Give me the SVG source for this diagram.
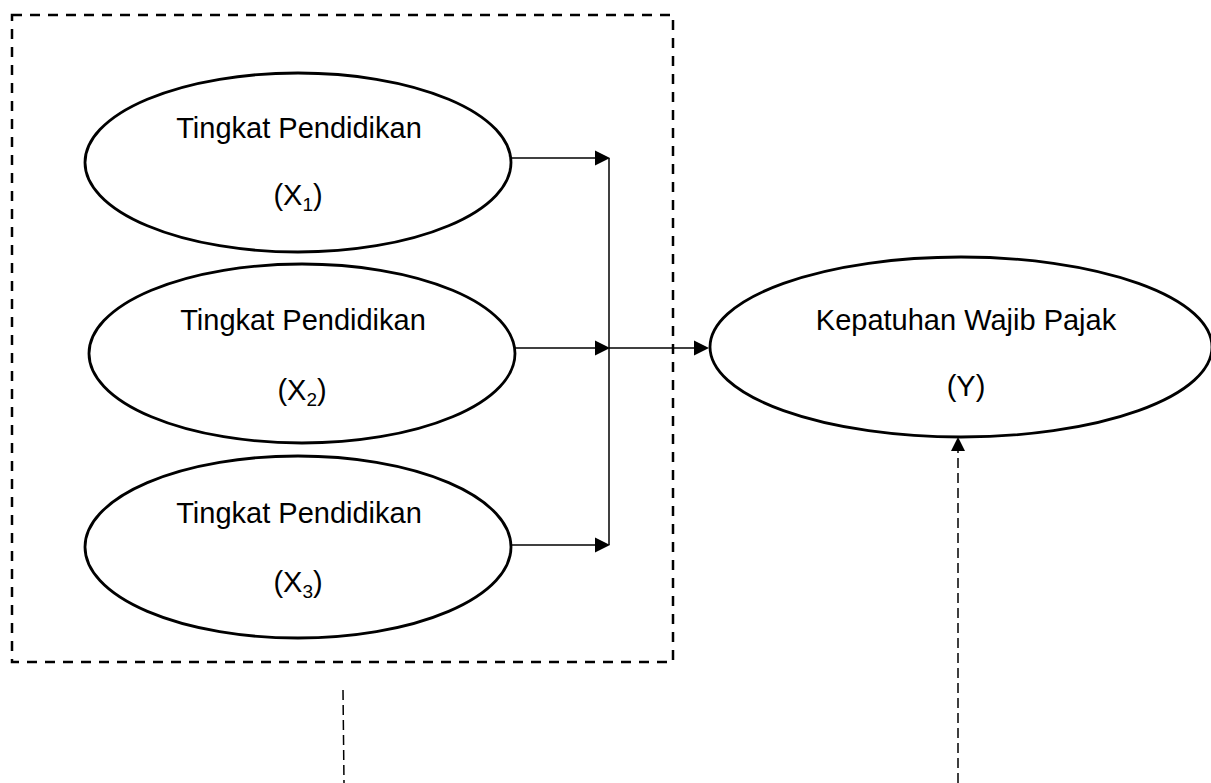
<svg xmlns="http://www.w3.org/2000/svg" width="1211" height="783" viewBox="0 0 1211 783">
<style>
.node ellipse{fill:#fff;stroke:#000;stroke-width:2.8}
.lbl{font-family:"Liberation Sans",Arial,sans-serif;font-size:29px;fill:#000;text-anchor:middle}
.sub{font-size:19px}
.con line{stroke:#000;stroke-width:1.5}
.head{fill:#000}
.dash{stroke:#111;stroke-width:1.3;stroke-dasharray:10 5;fill:none}
</style>
<rect id="group-box" x="12" y="15" width="661" height="647" fill="none" stroke="#000" stroke-width="2.5" stroke-dasharray="10 8"/>
<g id="x1" class="node">
<ellipse cx="298" cy="162.5" rx="213" ry="89.5"/>
<text class="lbl" x="299" y="138">Tingkat Pendidikan</text>
<text class="lbl" x="298" y="205">(X<tspan class="sub" dy="6">1</tspan><tspan dy="-6">)</tspan></text>
</g>
<g id="x2" class="node">
<ellipse cx="302" cy="353.5" rx="213" ry="89.5"/>
<text class="lbl" x="303" y="330">Tingkat Pendidikan</text>
<text class="lbl" x="302" y="400">(X<tspan class="sub" dy="6">2</tspan><tspan dy="-6">)</tspan></text>
</g>
<g id="x3" class="node">
<ellipse cx="298" cy="547" rx="213" ry="91"/>
<text class="lbl" x="299" y="523">Tingkat Pendidikan</text>
<text class="lbl" x="298" y="592">(X<tspan class="sub" dy="6">3</tspan><tspan dy="-6">)</tspan></text>
</g>
<g id="y" class="node">
<ellipse cx="961" cy="347" rx="251" ry="90"/>
<text class="lbl" x="966" y="330">Kepatuhan Wajib Pajak</text>
<text class="lbl" x="966" y="396">(Y)</text>
</g>
<g id="connectors" class="con">
<line x1="512" y1="158" x2="596" y2="158"/>
<polygon class="head" points="595,150.5 610,158 595,165.5"/>
<line x1="515" y1="348" x2="596" y2="348"/>
<polygon class="head" points="595,340.5 610,348 595,355.5"/>
<line x1="511" y1="545" x2="596" y2="545"/>
<polygon class="head" points="595,537.5 610,545 595,552.5"/>
<line x1="609" y1="158" x2="609" y2="545"/>
<line x1="609" y1="348" x2="695" y2="348"/>
<polygon class="head" points="694,340.5 709,348 694,355.5"/>
<line class="dash" x1="343" y1="690" x2="344" y2="783"/>
<line class="dash" x1="958" y1="783" x2="958" y2="450"/>
<polygon class="head" points="951,451 958,437 965,451"/>
</g>
</svg>
